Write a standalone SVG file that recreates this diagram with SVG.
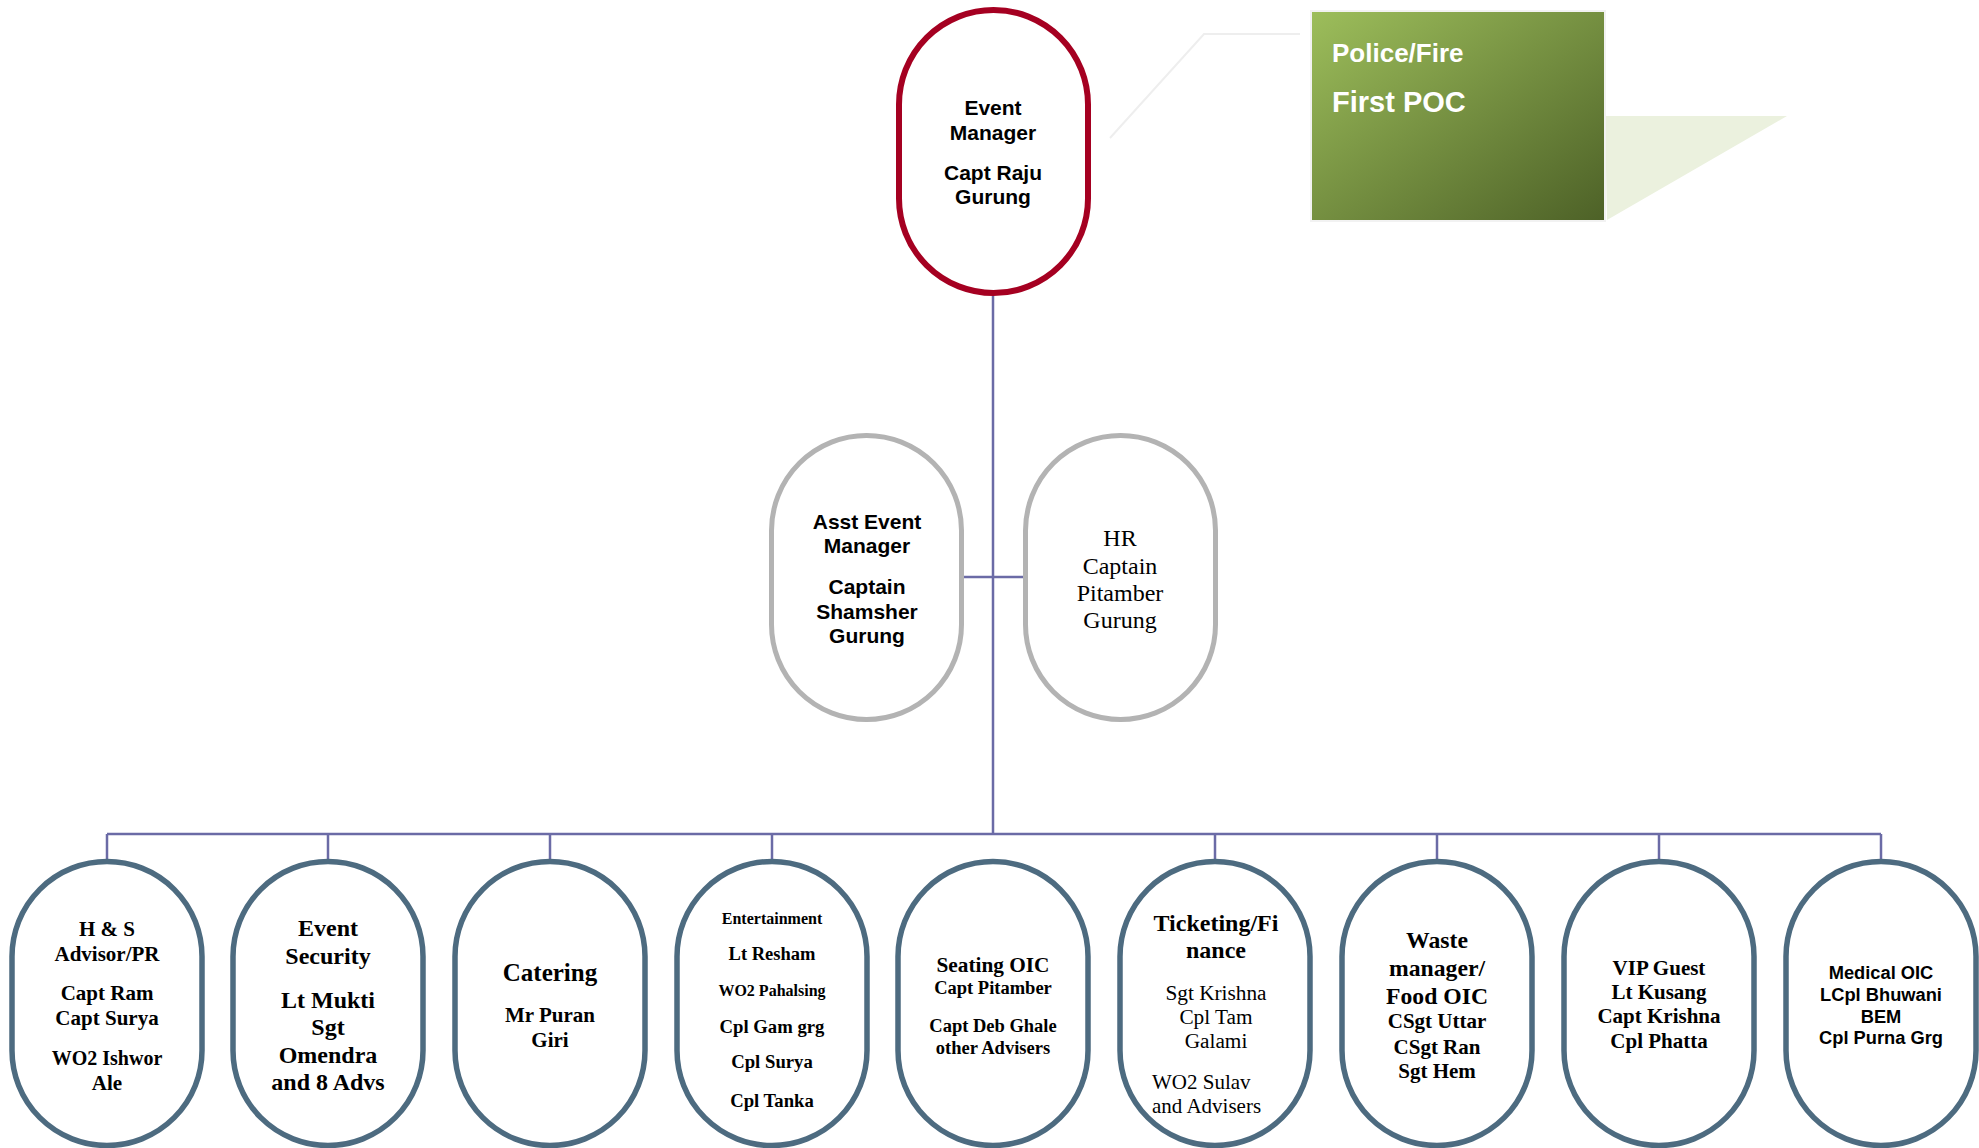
<svg xmlns="http://www.w3.org/2000/svg" width="1979" height="1148" viewBox="0 0 1979 1148">
<style>
.bg{fill:#ffffff}
.conn{stroke:#6B6BA6;stroke-width:2.5;fill:none}
.top{fill:#ffffff;stroke:#A50021;stroke-width:6}
.mid{fill:#ffffff;stroke:#B3B3B3;stroke-width:5}
.bot{fill:#ffffff;stroke:#4D6B80;stroke-width:5.5}
.sb{font-family:"Liberation Sans",Arial,sans-serif;font-weight:bold;fill:#000000;text-anchor:middle}
.tb{font-family:"Liberation Serif","Times New Roman",serif;font-weight:bold;fill:#000000;text-anchor:middle}
.tr{font-family:"Liberation Serif","Times New Roman",serif;fill:#000000;text-anchor:middle}
.poc{font-family:"Liberation Sans",Arial,sans-serif;font-weight:bold;fill:#ffffff}
</style>
<defs>
<linearGradient id="green" x1="0" y1="0" x2="1" y2="1">
<stop offset="0" stop-color="#9DBE5B"/>
<stop offset="1" stop-color="#4D6127"/>
</linearGradient>
</defs>
<rect class="bg" x="0" y="0" width="1979" height="1148"/>

<g id="connectors">
<line class="conn" x1="993" y1="296" x2="993" y2="834"/>
<line class="conn" x1="964" y1="577" x2="1023" y2="577"/>
<line class="conn" x1="107" y1="834" x2="1881" y2="834"/>
<line class="conn" x1="107" y1="834" x2="107" y2="861"/>
<line class="conn" x1="328" y1="834" x2="328" y2="861"/>
<line class="conn" x1="550" y1="834" x2="550" y2="861"/>
<line class="conn" x1="772" y1="834" x2="772" y2="861"/>
<line class="conn" x1="1215" y1="834" x2="1215" y2="861"/>
<line class="conn" x1="1437" y1="834" x2="1437" y2="861"/>
<line class="conn" x1="1659" y1="834" x2="1659" y2="861"/>
<line class="conn" x1="1881" y1="834" x2="1881" y2="861"/>
</g>

<g id="callout-police">
<polyline points="1110,138 1204,34 1300,34" fill="none" stroke="#EEEEEE" stroke-width="2"/>
<polygon points="1605,116 1787,116 1607,220" fill="#EBF1DE"/>
<rect x="1311" y="11" width="294" height="210" fill="url(#green)" stroke="#F2F2F2" stroke-width="2"/>
<text class="poc" x="1332" y="62" font-size="26">Police/Fire</text>
<text class="poc" x="1332" y="112" font-size="29">First POC</text>
</g>

<g id="node-event-manager">
<rect class="top" x="899" y="10" width="189" height="283" rx="94.5" ry="94.5"/>
<text class="sb" font-size="21"><tspan x="993" y="115">Event</tspan><tspan x="993" y="140">Manager</tspan><tspan x="993" y="180">Capt Raju</tspan><tspan x="993" y="204">Gurung</tspan></text>
</g>

<g id="node-asst-event-manager">
<rect class="mid" x="771.5" y="435.5" width="190" height="284" rx="95" ry="95"/>
<text class="sb" font-size="21"><tspan x="867" y="529">Asst Event</tspan><tspan x="867" y="553">Manager</tspan><tspan x="867" y="594">Captain</tspan><tspan x="867" y="619">Shamsher</tspan><tspan x="867" y="643">Gurung</tspan></text>
</g>

<g id="node-hr">
<rect class="mid" x="1025.5" y="435.5" width="190" height="284" rx="95" ry="95"/>
<text class="tr" font-size="24"><tspan x="1120" y="546">HR</tspan><tspan x="1120" y="574">Captain</tspan><tspan x="1120" y="601">Pitamber</tspan><tspan x="1120" y="628">Gurung</tspan></text>
</g>

<g id="node-hs">
<rect class="bot" x="12" y="861.5" width="190" height="284" rx="95" ry="95"/>
<text class="tb" font-size="21"><tspan x="107" y="936">H &amp; S</tspan><tspan x="107" y="961">Advisor/PR</tspan><tspan x="107" y="1000">Capt Ram</tspan><tspan x="107" y="1025">Capt Surya</tspan><tspan x="107" y="1065" font-size="20">WO2 Ishwor</tspan><tspan x="107" y="1090">Ale</tspan></text>
</g>

<g id="node-security">
<rect class="bot" x="233" y="861.5" width="190" height="284" rx="95" ry="95"/>
<text class="tb" font-size="24"><tspan x="328" y="936">Event</tspan><tspan x="328" y="964">Security</tspan><tspan x="328" y="1008">Lt Mukti</tspan><tspan x="328" y="1035">Sgt</tspan><tspan x="328" y="1063">Omendra</tspan><tspan x="328" y="1090">and 8 Advs</tspan></text>
</g>

<g id="node-catering">
<rect class="bot" x="455" y="861.5" width="190" height="284" rx="95" ry="95"/>
<text class="tb"><tspan x="550" y="981" font-size="25">Catering</tspan><tspan x="550" y="1022" font-size="21">Mr Puran</tspan><tspan x="550" y="1047" font-size="21">Giri</tspan></text>
</g>

<g id="node-entertainment">
<rect class="bot" x="677" y="861.5" width="190" height="284" rx="95" ry="95"/>
<text class="tb"><tspan x="772" y="924" font-size="16">Entertainment</tspan><tspan x="772" y="960" font-size="18.5">Lt Resham</tspan><tspan x="772" y="996" font-size="16">WO2 Pahalsing</tspan><tspan x="772" y="1033" font-size="18.7">Cpl Gam grg</tspan><tspan x="772" y="1068" font-size="18.7">Cpl Surya</tspan><tspan x="772" y="1107" font-size="18.7">Cpl Tanka</tspan></text>
</g>

<g id="node-seating">
<rect class="bot" x="898" y="861.5" width="190" height="284" rx="95" ry="95"/>
<text class="tb"><tspan x="993" y="972" font-size="21.3">Seating OIC</tspan><tspan x="993" y="994" font-size="18.5">Capt Pitamber</tspan><tspan x="993" y="1032" font-size="18.5">Capt Deb Ghale</tspan><tspan x="993" y="1054" font-size="18.5">other Advisers</tspan></text>
</g>

<g id="node-ticketing">
<rect class="bot" x="1120" y="861.5" width="190" height="284" rx="95" ry="95"/>
<text class="tb" font-size="24"><tspan x="1216" y="931">Ticketing/Fi</tspan><tspan x="1216" y="958">nance</tspan></text>
<text class="tr" font-size="21.3"><tspan x="1216" y="1000">Sgt Krishna</tspan><tspan x="1216" y="1024">Cpl Tam</tspan><tspan x="1216" y="1048">Galami</tspan></text>
<text class="tr" font-size="21" style="text-anchor:start"><tspan x="1152" y="1089">WO2 Sulav</tspan><tspan x="1152" y="1113">and Advisers</tspan></text>
</g>

<g id="node-waste">
<rect class="bot" x="1342" y="861.5" width="190" height="284" rx="95" ry="95"/>
<text class="tb"><tspan x="1437" y="948" font-size="23.7">Waste</tspan><tspan x="1437" y="976" font-size="23.7">manager/</tspan><tspan x="1437" y="1004" font-size="23.7">Food OIC</tspan><tspan x="1437" y="1028" font-size="21">CSgt Uttar</tspan><tspan x="1437" y="1054" font-size="21">CSgt Ran</tspan><tspan x="1437" y="1078" font-size="21">Sgt Hem</tspan></text>
</g>

<g id="node-vip">
<rect class="bot" x="1564" y="861.5" width="190" height="284" rx="95" ry="95"/>
<text class="tb" font-size="21"><tspan x="1659" y="975">VIP Guest</tspan><tspan x="1659" y="999">Lt Kusang</tspan><tspan x="1659" y="1023">Capt Krishna</tspan><tspan x="1659" y="1048">Cpl Phatta</tspan></text>
</g>

<g id="node-medical">
<rect class="bot" x="1786" y="861.5" width="190" height="284" rx="95" ry="95"/>
<text class="sb" font-size="18.3"><tspan x="1881" y="979">Medical OIC</tspan><tspan x="1881" y="1001">LCpl Bhuwani</tspan><tspan x="1881" y="1023">BEM</tspan><tspan x="1881" y="1044">Cpl Purna Grg</tspan></text>
</g>
</svg>
